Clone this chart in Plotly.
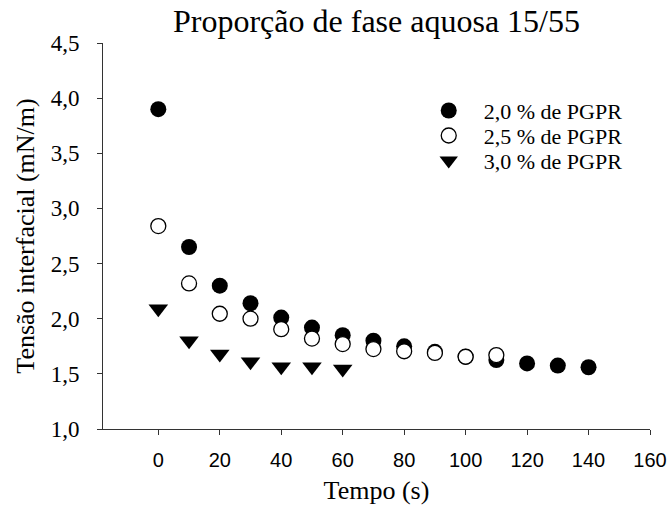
import plotly.graph_objects as go

# Interfacial tension vs. time for three PGPR concentrations (aqueous phase 15/55)
tempo_20 = [0, 10, 20, 30, 40, 50, 60, 70, 80, 90, 100, 110, 120, 130, 140]
tensao_20 = [3.90, 2.65, 2.30, 2.14, 2.01, 1.92, 1.85, 1.80, 1.75, 1.70, 1.655, 1.625, 1.595, 1.575, 1.56]

tempo_25 = [0, 10, 20, 30, 40, 50, 60, 70, 80, 90, 100, 110]
tensao_25 = [2.84, 2.32, 2.045, 2.00, 1.905, 1.82, 1.77, 1.725, 1.705, 1.69, 1.655, 1.67]

tempo_30 = [0, 10, 20, 30, 40, 50, 60]
tensao_30 = [2.09, 1.80, 1.68, 1.61, 1.565, 1.565, 1.545]

series_names = ["2,0 % de PGPR", "2,5 % de PGPR", "3,0 % de PGPR"]

x_ticks = [0, 20, 40, 60, 80, 100, 120, 140, 160]
y_ticks = [1.0, 1.5, 2.0, 2.5, 3.0, 3.5, 4.0, 4.5]

SERIF = "Liberation Serif, Times New Roman, serif"
SANS = "Liberation Sans, Arial, sans-serif"
AXIS = "#333333"

fig = go.Figure()

fig.add_trace(go.Scatter(
    x=tempo_20, y=tensao_20, mode="markers", name=series_names[0],
    marker=dict(symbol="circle", size=16, color="black", line=dict(width=0)),
    legend="legend", showlegend=True,
))
fig.add_trace(go.Scatter(
    x=tempo_25, y=tensao_25, mode="markers", name=series_names[1],
    marker=dict(symbol="circle", size=15, color="white", line=dict(width=1.3, color="black")),
    legend="legend2", showlegend=True,
))
fig.add_trace(go.Scatter(
    x=tempo_30, y=tensao_30, mode="markers", name=series_names[2],
    marker=dict(symbol="triangle-down", size=17, color="black", line=dict(width=0)),
    legend="legend3", showlegend=True,
))

legend_common = dict(
    xanchor="left", yanchor="middle", x=0.59 - 12 / 547,
    bgcolor="rgba(0,0,0,0)", borderwidth=0,
    font=dict(family=SERIF, size=22, color="black"),
    itemwidth=60,
)

fig.update_layout(
    width=670, height=506,
    margin=dict(l=103, r=20, t=43, b=77),
    paper_bgcolor="white", plot_bgcolor="white",
    separators=",.",
    showlegend=True,
    title=dict(
        text="Proporção de fase aquosa 15/55",
        font=dict(family=SERIF, size=32, color="black"),
        x=0.5, xref="paper", xanchor="center",
        y=1 - 21 / 506, yref="container", yanchor="middle",
    ),
    xaxis=dict(
        range=[-18, 160], tickvals=x_ticks,
        ticks="outside", ticklen=5, tickwidth=1, tickcolor=AXIS,
        showline=True, linecolor=AXIS, linewidth=1,
        showgrid=False, zeroline=False, automargin=False,
        ticklabelstandoff=8,
        tickfont=dict(family=SANS, size=20, color="black"),
        title=dict(text="Tempo (s)", font=dict(family=SERIF, size=26, color="black"), standoff=10),
    ),
    yaxis=dict(
        range=[1.0, 4.5], tickvals=y_ticks, tickformat=".1f",
        ticks="outside", ticklen=5, tickwidth=1, tickcolor=AXIS,
        showline=True, linecolor=AXIS, linewidth=1,
        showgrid=False, zeroline=False, automargin=False,
        ticklabelstandoff=13,
        tickfont=dict(family=SERIF, size=23, color="black"),
        title=dict(text="Tensão interfacial (mN/m)", font=dict(family=SERIF, size=26, color="black"), standoff=8),
    ),
    legend=dict(y=1 - (110.7 - 43) / 386, **legend_common),
    legend2=dict(y=1 - (135.7 - 43) / 386, **legend_common),
    legend3=dict(y=1 - (160.7 - 43) / 386, **legend_common),
)

fig.write_html("out.html")
